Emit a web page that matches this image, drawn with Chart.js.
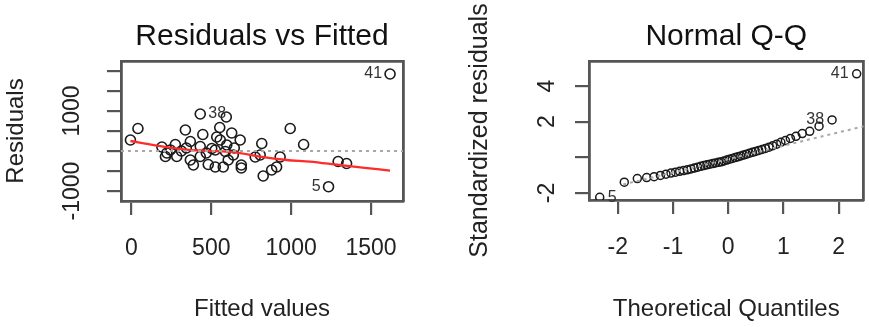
<!DOCTYPE html>
<html>
<head>
<meta charset="utf-8">
<script src="https://cdn.jsdelivr.net/npm/chart.js@4.4.1/dist/chart.umd.min.js"></script>
<style>
  html, body { margin: 0; padding: 0; background: #fff; }
  body { width: 869px; height: 327px; position: relative; overflow: hidden; }
  canvas { position: absolute; top: 0; }
  #resid-chart { left: 0; }
  #qq-chart { left: 434px; }
</style>
</head>
<body>
<canvas id="resid-chart" width="434" height="327"></canvas>
<canvas id="qq-chart" width="435" height="327"></canvas>
<script>
/* ---- Data: Residuals vs Fitted ---- */
const fitted = [-6, 41, 338, 431, 447, 369, 191, 275, 222, 244, 213, 284, 431, 369, 388, 431, 481, 525, 503, 594,
                553, 628, 681, 534, 597, 525, 588, 638, 575, 688, 688, 816, 806, 825, 878, 909, 931, 994, 1078, 1294,
                1347, 1234, 1619, 313, 556, 469, 344, 644, 775, 606];
const resid  = [275, 563, 525, 925, 413, 238, 100, 163, -50, 25, -138, -138, 113, -225, -350, -138, -338, -400, 63, 850,
                588, 450, 275, 350, 150, 25, -13, -100, -400, -350, -425, 188, -100, -625, -475, -400, -150, 563, 163, -263,
                -313, -893, 1925, 0, 275, -50, 75, 75, -150, -225];
const residIds    = ['41', '38', '5'];
const residIdIdx  = [42, 3, 41];
const smoothX = [-6, 150, 340, 480, 640, 806, 973, 1119, 1300, 1460, 1619];
const smoothY = [250, 140, 35, 5, -30, -142, -225, -265, -350, -420, -490];
const fittedTicks = [0, 500, 1000, 1500];
const residTicks  = [-1000, -500, 0, 500, 1000, 1500, 2000];
const residTickLabels = [-1000, 1000];

/* ---- Data: Normal Q-Q ---- */
const qqTheo = [-2.326, -1.881, -1.645, -1.476, -1.341, -1.227, -1.126, -1.036, -0.954, -0.878,
                -0.806, -0.739, -0.674, -0.613, -0.553, -0.496, -0.440, -0.385, -0.332, -0.279,
                -0.228, -0.176, -0.126, -0.075, -0.025, 0.025, 0.075, 0.126, 0.176, 0.228,
                0.279, 0.332, 0.385, 0.440, 0.496, 0.553, 0.613, 0.674, 0.739, 0.806,
                0.878, 0.954, 1.036, 1.126, 1.227, 1.341, 1.476, 1.645, 1.881, 2.326];
const qqStd  = [-2.24, -1.39, -1.19, -1.13, -1.08, -1.01, -0.94, -0.88, -0.83, -0.78,
                -0.74, -0.70, -0.65, -0.60, -0.55, -0.50, -0.46, -0.42, -0.38, -0.35,
                -0.31, -0.28, -0.25, -0.20, -0.15, -0.10, -0.06, -0.01, 0.03, 0.08,
                0.13, 0.18, 0.23, 0.28, 0.33, 0.39, 0.44, 0.50, 0.57, 0.65,
                0.74, 0.84, 0.94, 1.06, 1.18, 1.33, 1.46, 1.75, 2.10, 4.68];
const qqIds    = ['41', '38', '5'];
const qqIdIdx  = [49, 48, 0];
const qqLineX  = [-1.9, 2.6];
const qqLineY  = [-1.52, 1.85];
const theoTicks = [-2, -1, 0, 1, 2];
const stdTicks  = [-2, 0, 2, 4];
const stdTickLabels = [-2, 2, 4];

const INK = '#222';
const BOX = '#555';
Chart.defaults.font.family = "'Liberation Sans', Arial, sans-serif";
Chart.defaults.color = INK;

const toXY = (xs, ys) => xs.map((v, i) => ({ x: v, y: ys[i] }));

/* ---- Point id labels, R style (left of point on right half) ---- */
const idLabelPlugin = {
  id: 'idLabels',
  afterDatasetsDraw(chart, args, opts) {
    const { ctx, scales: { x, y } } = chart;
    const mid = (Math.min(...opts.xs) + Math.max(...opts.xs)) / 2;
    ctx.save();
    ctx.font = "16px 'Liberation Sans', Arial, sans-serif";
    ctx.fillStyle = '#333';
    ctx.textBaseline = 'middle';
    opts.idx.forEach((k, i) => {
      const px = x.getPixelForValue(opts.xs[k]);
      const py = y.getPixelForValue(opts.ys[k]);
      const onLeft = opts.xs[k] > mid;
      ctx.textAlign = onLeft ? 'right' : 'left';
      ctx.fillText(opts.labels[i], px + (onLeft ? -8 : 8), py);
    });
    ctx.restore();
  }
};

/* ---- Shared R-like axes ---- */
function makeScales(o) {
  const tickGrid = { display: true, drawOnChartArea: false, drawTicks: true, tickLength: 14, color: BOX, lineWidth: 2.2 };
  const edge = { display: true, color: BOX, width: 2.8 };
  return {
    x: {
      type: 'linear', position: 'bottom', min: o.xMin, max: o.xMax,
      afterBuildTicks: s => { s.ticks = o.xTicks.map(v => ({ value: v })); },
      afterFit: s => { s.height = o.bottomH; },
      grid: tickGrid, border: edge,
      ticks: { color: INK, font: { size: 23 }, padding: 20, maxRotation: 0, autoSkip: false, callback: v => String(v) },
      title: { display: true, text: o.xTitle, color: INK, font: { size: 24 }, padding: { top: 0, bottom: 3 } }
    },
    y: {
      type: 'linear', position: 'left', min: o.yMin, max: o.yMax,
      afterBuildTicks: s => { s.ticks = o.yTicks.map(v => ({ value: v })); },
      afterFit: s => { s.width = o.leftW; },
      grid: tickGrid, border: edge,
      ticks: {
        color: INK, font: { size: 23 }, padding: o.yPad, minRotation: 90, maxRotation: 90,
        crossAlign: 'center', autoSkip: false,
        callback: v => o.yLabels.includes(v) ? String(v) : ''
      },
      title: { display: true, text: o.yTitle, color: INK, font: { size: o.yTitleSize }, padding: { top: o.yTitlePad, bottom: 0 } }
    },
    x2: {
      type: 'linear', position: 'top',
      afterFit: s => { s.height = 61; },
      grid: { display: false }, ticks: { display: false }, border: edge,
      title: { display: true, text: o.main, color: '#111', font: { size: 30 }, padding: { top: 19, bottom: 0 } }
    },
    y2: {
      type: 'linear', position: 'right',
      afterFit: s => { s.width = o.rightW; },
      grid: { display: false }, ticks: { display: false }, border: edge
    }
  };
}

const baseOptions = {
  responsive: false,
  animation: false,
  layout: { padding: 0 },
  plugins: { legend: { display: false }, tooltip: { enabled: false } }
};

/* ---- Residuals vs Fitted ---- */
new Chart(document.getElementById('resid-chart'), {
  type: 'scatter',
  data: {
    datasets: [
      { data: [{ x: -65, y: 0 }, { x: 1700, y: 0 }], showLine: true, pointRadius: 0,
        borderColor: '#a8a8a8', borderWidth: 2, borderDash: [3, 4] },
      { data: toXY(smoothX, smoothY), showLine: true, pointRadius: 0,
        borderColor: '#ff2a2a', borderWidth: 2.3, tension: 0.3 },
      { data: toXY(fitted, resid), pointStyle: 'circle', pointRadius: 5,
        borderColor: '#1a1a1a', borderWidth: 1.6, backgroundColor: 'rgba(0,0,0,0)' }
    ]
  },
  options: {
    ...baseOptions,
    scales: makeScales({
      xMin: -65, xMax: 1700, yMin: -1250, yMax: 2250,
      xTicks: fittedTicks, yTicks: residTicks, yLabels: residTickLabels,
      xTitle: 'Fitted values', yTitle: 'Residuals', main: 'Residuals vs Fitted',
      bottomH: 126, leftW: 121, rightW: 31, yPad: 5, yTitleSize: 24, yTitlePad: 2
    }),
    plugins: {
      ...baseOptions.plugins,
      idLabels: { xs: fitted, ys: resid, idx: residIdIdx, labels: residIds }
    }
  },
  plugins: [idLabelPlugin]
});

/* ---- Normal Q-Q ---- */
new Chart(document.getElementById('qq-chart'), {
  type: 'scatter',
  data: {
    datasets: [
      { data: toXY(qqLineX, qqLineY), showLine: true, pointRadius: 0,
        borderColor: '#a8a8a8', borderWidth: 2, borderDash: [3, 4] },
      { data: toXY(qqTheo, qqStd), pointStyle: 'circle', pointRadius: 4,
        borderColor: '#1a1a1a', borderWidth: 1.5, backgroundColor: 'rgba(0,0,0,0)' }
    ]
  },
  options: {
    ...baseOptions,
    scales: makeScales({
      xMin: -2.52, xMax: 2.45, yMin: -2.39, yMax: 5.40,
      xTicks: theoTicks, yTicks: stdTicks, yLabels: stdTickLabels,
      xTitle: 'Theoretical Quantiles', yTitle: 'Standardized residuals', main: 'Normal Q-Q',
      bottomH: 127, leftW: 155, rightW: 1, yPad: 17, yTitleSize: 25, yTitlePad: 31
    }),
    plugins: {
      ...baseOptions.plugins,
      idLabels: { xs: qqTheo, ys: qqStd, idx: qqIdIdx, labels: qqIds }
    }
  },
  plugins: [idLabelPlugin]
});
</script>
</body>
</html>
